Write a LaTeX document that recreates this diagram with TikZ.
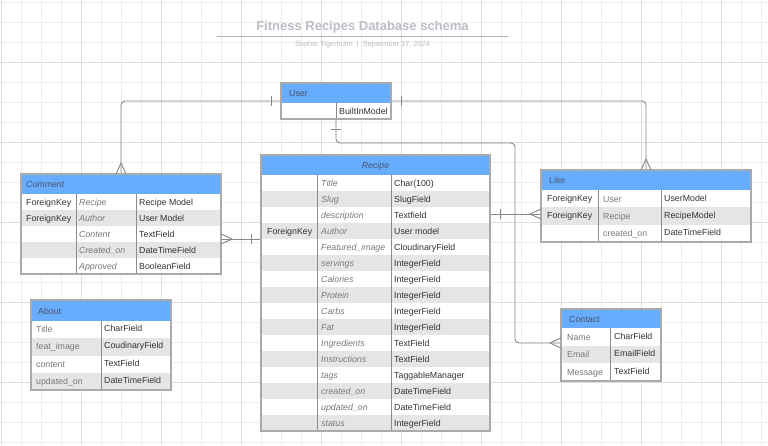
\documentclass[tikz,border=0pt]{standalone}
\usepackage{fontspec}
\setmainfont{Liberation Sans}
\usetikzlibrary{calc}
\definecolor{hdrblue}{RGB}{104,172,254}
\definecolor{hdrtxt}{RGB}{72,84,104}
\definecolor{rowgray}{RGB}{229,229,229}
\definecolor{boxgray}{RGB}{170,170,170}
\definecolor{divgray}{RGB}{140,140,140}
\definecolor{txtdark}{RGB}{51,51,51}
\definecolor{txtgray}{RGB}{120,120,120}
\definecolor{linegray}{RGB}{135,135,135}
\definecolor{gridminor}{RGB}{237,237,237}
\definecolor{gridmajor}{RGB}{221,221,221}
\definecolor{titlegray}{RGB}{186,190,197}
\definecolor{rulegray}{RGB}{175,180,188}
\newcommand{\erbox}[6]{%
  \node[fill=white, inner sep=0pt, outer sep=0pt, minimum width=#4pt, minimum height=#5pt, anchor=north west] (#1) at (#2,#3) {};
  \fill[hdrblue] (#1.north west) rectangle ++(#4,#6);}
\newcommand{\erborder}[1]{\draw[boxline] (#1.north west) rectangle (#1.south east);}
\newcommand{\crowfoot}[3]{\draw[conn] ($(#1)+(#2)$) -- ($(#1)+(#3)$) ($(#1)+(#2)$) -- ($(#1)-(#3)$);}
\newcommand{\onetick}[3]{\draw[conn] ($(#1)+(#2)+(#3)$) -- ($(#1)+(#2)-(#3)$);}
\begin{document}
\begin{tikzpicture}[x=1pt,y=-1pt,
  cellbase/.style={inner sep=0pt, anchor=base west, font=\fontsize{8.8}{10}\selectfont},
  celld/.style={cellbase, text=txtdark},
  cellg/.style={cellbase, text=txtgray},
  celli/.style={cellbase, text=txtgray, font=\fontsize{8.8}{10}\selectfont\itshape},
  htext/.style={inner sep=0pt, anchor=base west, text=hdrtxt, font=\fontsize{8.8}{10}\selectfont},
  conn/.style={draw=linegray, line width=0.9pt},
  boxline/.style={draw=boxgray, line width=1.3pt},
  divline/.style={draw=divgray, line width=1pt},
]
\useasboundingbox (0,0) rectangle (768,445);
\fill[white] (0,0) rectangle (768,445);
% grid
\foreach \x in {1,21,...,761} {\draw[gridminor, line width=0.8pt] (\x,0) -- (\x,445);}
\foreach \y in {2,22,...,442} {\draw[gridminor, line width=0.8pt] (0,\y) -- (768,\y);}
\foreach \x in {1,81,...,721} {\draw[gridmajor, line width=0.9pt] (\x,0) -- (\x,445);}
\foreach \y in {62,142,...,382} {\draw[gridmajor, line width=0.9pt] (0,\y) -- (768,\y);}

% title
\node[font=\fontsize{13}{15}\selectfont\bfseries, text=titlegray, inner sep=0pt] (title) at (362.5,27.5) {Fitness Recipes Database schema};
\draw[rulegray, line width=1pt] (217,36.3) -- (508,36.3);
\node[font=\fontsize{7.4}{8}\selectfont, text=titlegray, inner sep=0pt] (subtitle) at (362.5,44.5) {Sophie Tigerholm ~|~ September 17, 2024};

% box placeholders (for connector anchors)
\erbox{user}{281}{83}{110}{36}{20}
\erbox{comment}{21}{174}{200}{100}{20}
\erbox{recipe}{261}{155}{229}{276}{20}
\erbox{like}{541}{170}{210}{72}{20}
\erbox{contact}{561}{309}{100}{72}{19}
\erbox{about}{31}{300}{140}{90}{21}

% connectors (behind boxes)
\draw[conn, rounded corners=4pt] (user.west) -| (comment.north);
\draw[conn, rounded corners=4pt] (user.east) -| (like.north);
\coordinate (bendA) at (515,143);
\draw[conn, rounded corners=4pt] (user.south) |- (bendA) |- ([yshift=2pt]contact.west);
\draw[conn] ([yshift=-15pt]comment.east) coordinate (cr) -- (cr -| recipe.west);
\draw[conn] ([yshift=-8pt]like.west) coordinate (lr) -- (lr -| recipe.east);

% User
\erbox{user}{281}{83}{110}{36}{20}
\node[htext] (user-h) at (289,96) {User};
\draw[divline] (336,103) -- (336,119);
\node[celld] (user-c1) at (339,114) {BuiltInModel};
\erborder{user}

% Comment
\erbox{comment}{21}{174}{200}{100}{20}
\node[htext, font=\fontsize{8.8}{10}\selectfont\itshape] (comment-h) at (26,187) {Comment};
\foreach \a/\b/\c [count=\i] in {ForeignKey/Recipe/Recipe Model, ForeignKey/Author/User Model, {}/Content/TextField, {}/Created\_on/DateTimeField, {}/Approved/BooleanField} {
  \pgfmathsetmacro\ry{194+(\i-1)*16}
  \ifodd\i\relax\else\fill[rowgray] (21,\ry) rectangle (221,\ry+16);\fi
  \node[celld] (comment-a\i) at (26,\ry+11) {\a};
  \node[celli] (comment-b\i) at (79,\ry+11) {\b};
  \node[celld] (comment-c\i) at (139,\ry+11) {\c};
}
\draw[divline] (76,194) -- (76,274);
\draw[divline] (136,194) -- (136,274);
\erborder{comment}

% Recipe
\erbox{recipe}{261}{155}{229}{276}{20}
\node[htext, anchor=base, font=\fontsize{8.8}{10}\selectfont\itshape] (recipe-h) at (375.5,168) {Recipe};
\foreach \a/\b/\c [count=\i] in {{}/Title/Char(100), {}/Slug/SlugField, {}/description/Textfield, ForeignKey/Author/User model, {}/Featured\_image/CloudinaryField, {}/servings/IntegerField, {}/Calories/IntegerField, {}/Protein/IntegerField, {}/Carbs/IntegerField, {}/Fat/IntegerField, {}/Ingredients/TextField, {}/Instructions/TextField, {}/tags/TaggableManager, {}/created\_on/DateTimeField, {}/updated\_on/DateTimeField, {}/status/IntegerField} {
  \pgfmathsetmacro\ry{175+(\i-1)*16}
  \ifodd\i\relax\else\fill[rowgray] (261,\ry) rectangle (490,\ry+16);\fi
  \node[celld] (recipe-a\i) at (267,\ry+11) {\a};
  \node[celli] (recipe-b\i) at (321,\ry+11) {\b};
  \node[celld] (recipe-c\i) at (394,\ry+11) {\c};
}
\draw[divline] (317,175) -- (317,431);
\draw[divline] (391,175) -- (391,431);
\erborder{recipe}

% Like
\erbox{like}{541}{170}{210}{72}{20}
\node[htext] (like-h) at (549,183) {Like};
\foreach \a/\b/\c [count=\i] in {ForeignKey/User/UserModel, ForeignKey/Recipe/RecipeModel, {}/created\_on/DateTimeField} {
  \pgfmathsetmacro\ry{190+(\i-1)*17.33}
  \ifodd\i\relax\else\fill[rowgray] (541,\ry) rectangle (751,\ry+17.33);\fi
  \node[celld] (like-a\i) at (547,\ry+11.5) {\a};
  \node[cellg] (like-b\i) at (603,\ry+12) {\b};
  \node[celld] (like-c\i) at (664,\ry+11) {\c};
}
\draw[divline] (598,190) -- (598,242);
\draw[divline] (661,190) -- (661,242);
\erborder{like}

% Contact
\erbox{contact}{561}{309}{100}{72}{19}
\node[htext] (contact-h) at (569,322) {Contact};
\foreach \a/\b [count=\i] in {Name/CharField, Email/EmailField, Message/TextField} {
  \pgfmathsetmacro\ry{328+(\i-1)*17.67}
  \ifodd\i\relax\else\fill[rowgray] (561,\ry) rectangle (661,\ry+17.67);\fi
  \node[cellg] (contact-a\i) at (567,\ry+12) {\a};
  \node[celld] (contact-b\i) at (614,\ry+11) {\b};
}
\draw[divline] (610,328) -- (610,381);
\erborder{contact}

% About
\erbox{about}{31}{300}{140}{90}{21}
\node[htext] (about-h) at (38,314) {About};
\foreach \a/\b [count=\i] in {Title/CharField, feat\_image/CoudinaryField, content/TextField, updated\_on/DateTimeField} {
  \pgfmathsetmacro\ry{321+(\i-1)*17.25}
  \ifodd\i\relax\else\fill[rowgray] (31,\ry) rectangle (171,\ry+17.25);\fi
  \node[cellg] (about-a\i) at (36,\ry+11.5) {\a};
  \node[celld] (about-b\i) at (104,\ry+10.5) {\b};
}
\draw[divline] (101,321) -- (101,390);
\erborder{about}

% relationship markers
\onetick{user.west}{-10,0}{0,5}
\onetick{user.east}{10,0}{0,5}
\onetick{user.south}{0,10}{5,0}
\onetick{cr -| recipe.west}{-10,0}{0,5}
\onetick{lr -| recipe.east}{10,0}{0,5}
\crowfoot{comment.north}{0,-11}{5,0}
\crowfoot{like.north}{0,-11}{5,0}
\crowfoot{cr}{11,0}{0,5}
\crowfoot{lr}{-11,0}{0,5}
\coordinate (ct) at ([yshift=2pt]contact.west);
\crowfoot{ct}{-11,0}{0,5}
\end{tikzpicture}
\end{document}
